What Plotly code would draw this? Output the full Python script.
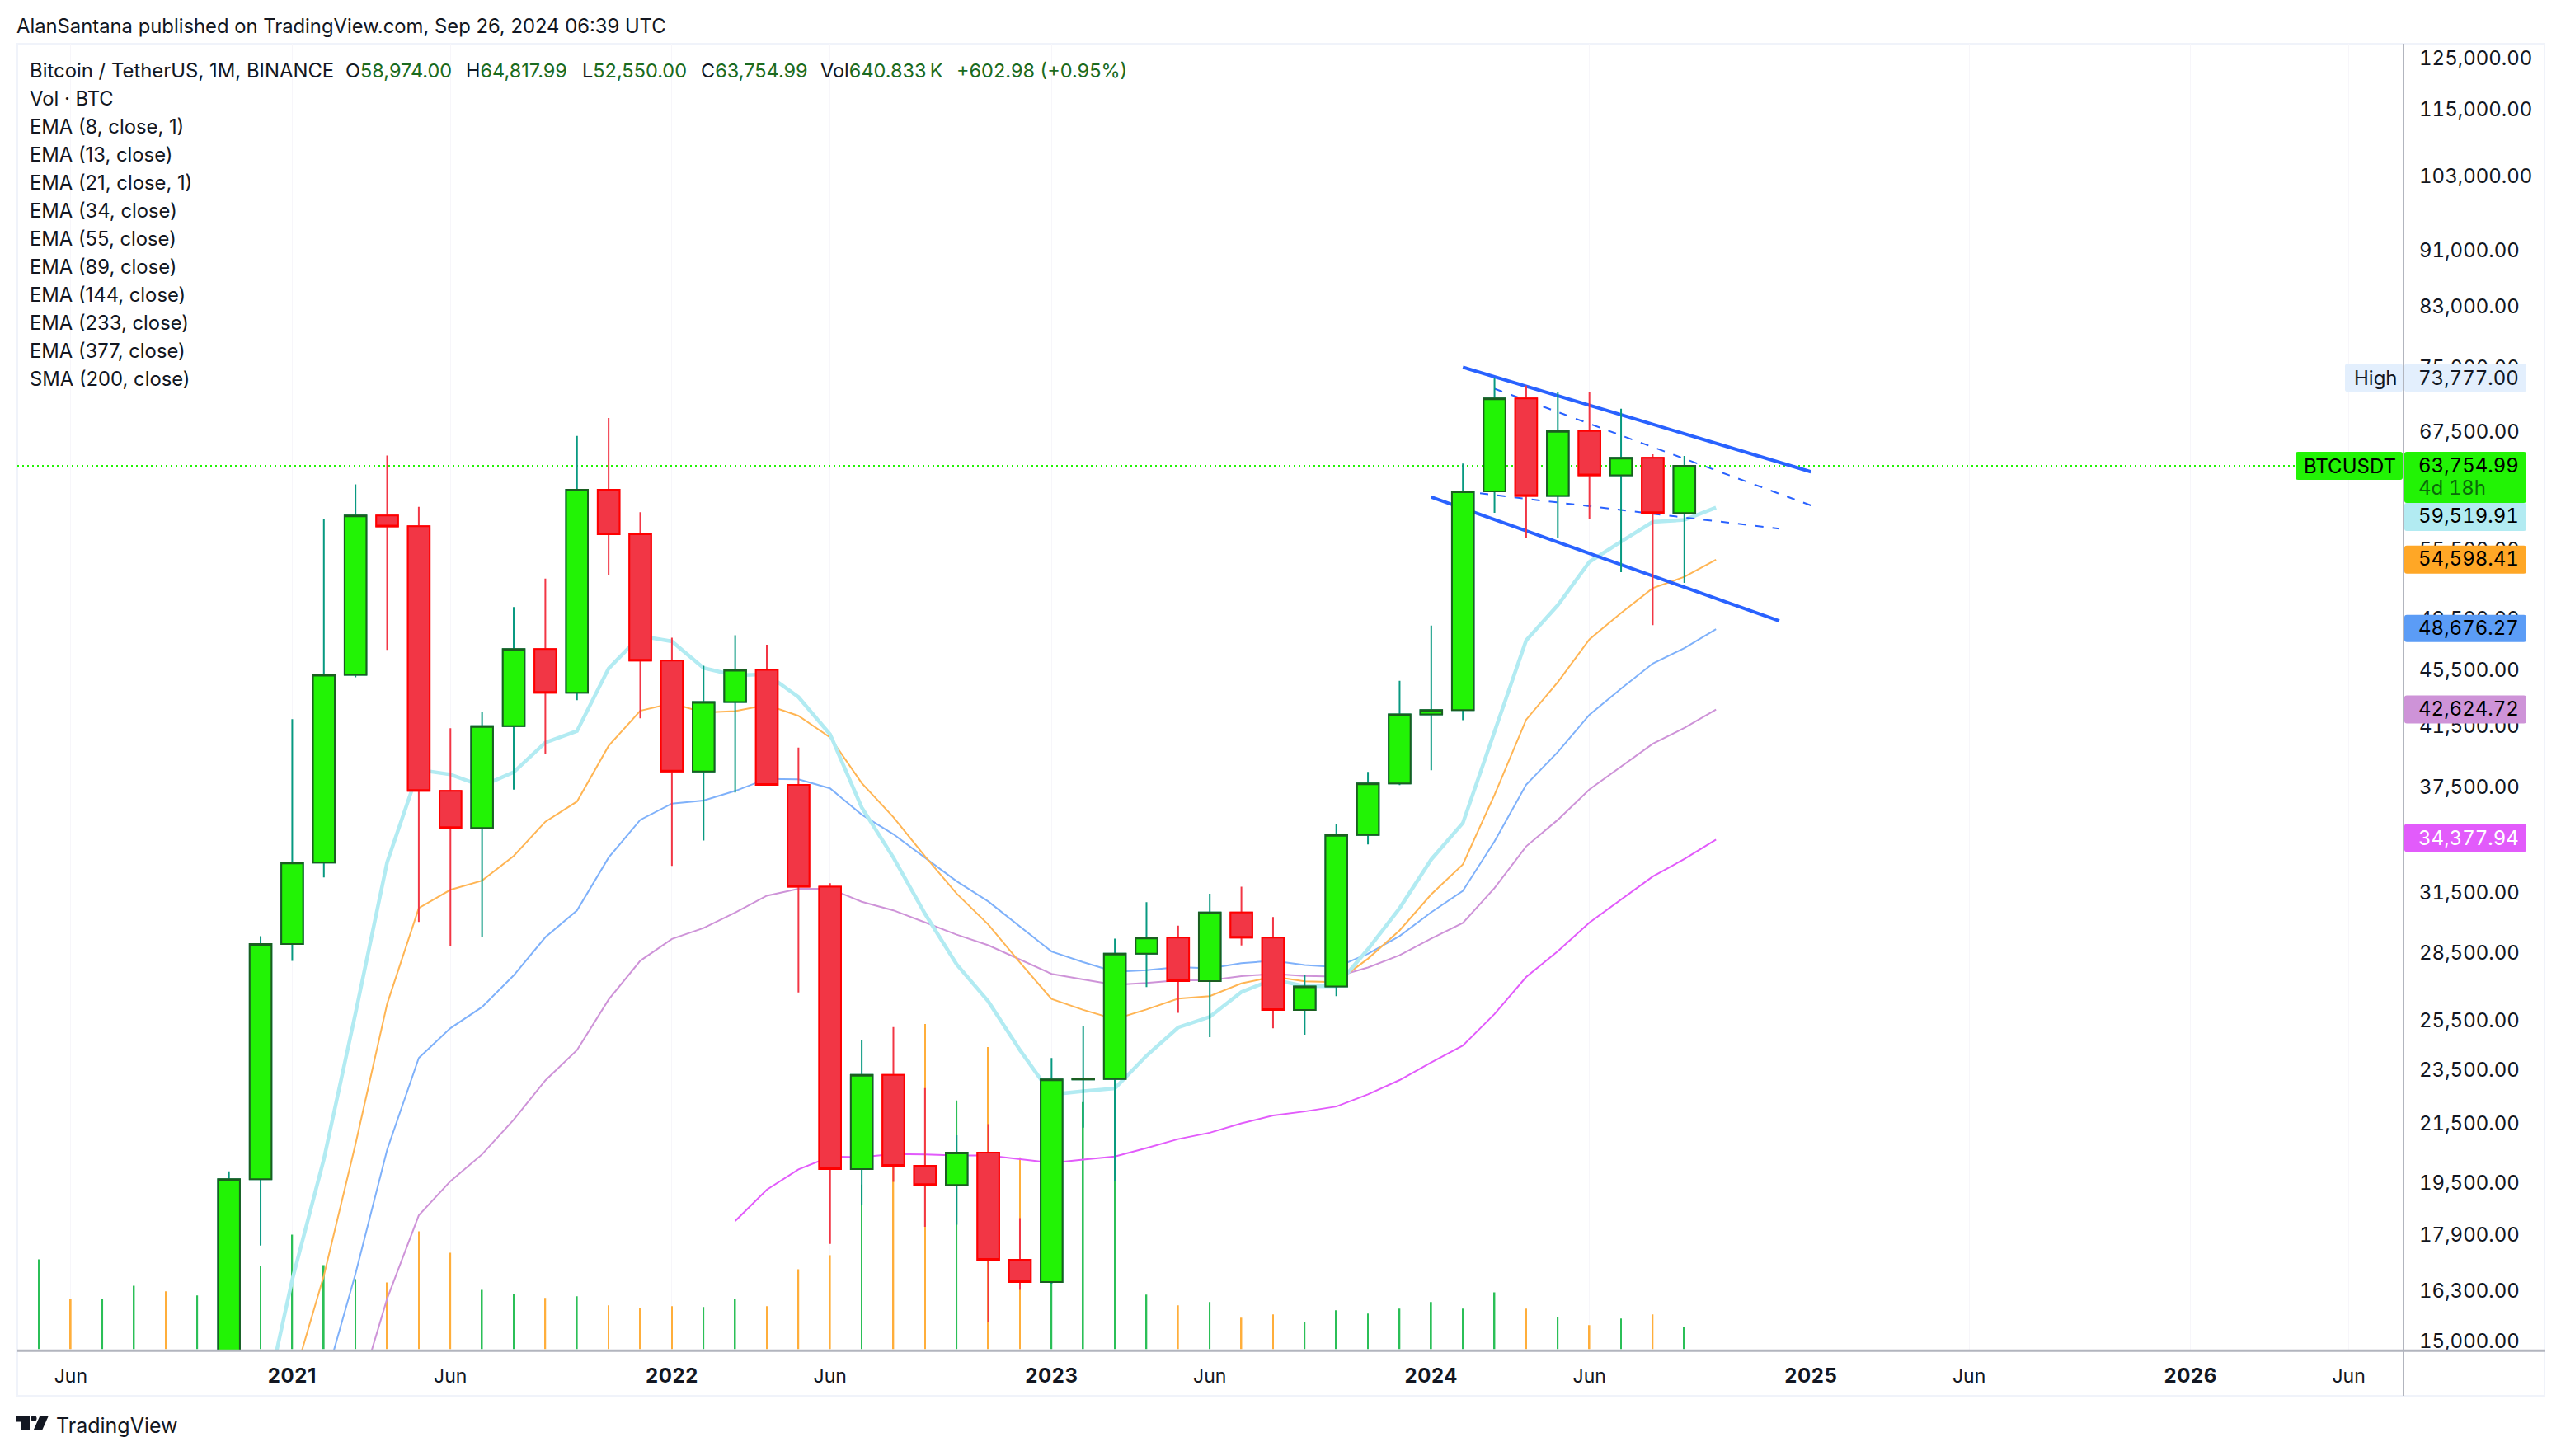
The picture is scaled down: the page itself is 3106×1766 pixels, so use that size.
import numpy as np
import plotly.graph_objects as go

W, H = 3106, 1766
LEFT, RIGHT, TOP, BOTTOM = 21, 2915, 53, 1641

# months are counted from Jan 2021 = 0
candle_x = list(range(-2, 45))
opens = [13791, 19608, 28923, 33092, 45134, 58739, 57697, 37253, 35045, 41461, 47100, 43820,
         61300, 56950, 46216, 38466, 43160, 45510, 37630, 31801, 19942, 23296, 20048, 19422,
         20490, 17165, 16542, 23125, 23142, 28465, 29233, 27210, 30472, 29232, 25941, 26962,
         34639, 37723, 42283, 42580, 61130, 71280, 60672, 67540, 62772, 64628, 58974]
highs = [19863, 29300, 41950, 58352, 61844, 64854, 59592, 41330, 42448, 50500, 52920, 67000,
         69000, 59053, 47990, 45821, 48189, 47444, 40023, 31982, 24668, 25214, 22799, 21085,
         21480, 18387, 23960, 25250, 29184, 31000, 29820, 31431, 31804, 30244, 27483, 35280,
         38450, 44700, 48969, 64000, 73777, 72797, 71979, 71998, 70079, 65000, 64817.99]
lows = [13195, 17572, 28130, 32296, 44950, 47044, 30000, 28805, 29278, 37332, 39600, 43283,
        53256, 42000, 32917, 34322, 37155, 37578, 26700, 17622, 18781, 19520, 18125, 18190,
        15476, 16333, 16499, 21351, 19549, 26942, 25811, 24800, 28861, 25166, 24900, 26538,
        34097, 37615, 38555, 41884, 59005, 56552, 56555, 58402, 53485, 49000, 52550]
closes = [19608, 28923, 33092, 45135, 58740, 57694, 37253, 35045, 41461, 47100, 43824, 61299,
          56950, 46216, 38466, 43160, 45510, 37630, 31801, 19942, 23296, 20050, 19422, 20490,
          17164, 16542, 23125, 23142, 28465, 29233, 27210, 30472, 29232, 25941, 26962, 34639,
          37723, 42283, 42580, 61130, 71280, 60672, 67540, 62772, 64628, 58974, 63754.99]

# volume in K BTC, some of them sit behind wicks and are guesses
vol_x = list(range(-8, 45))
volume = [2583, 1446, 1446, 1825, 1659, 1541, 2133, 2394, 3294, 2417, 2015, 1920, 3389, 2773,
          1706, 1588, 1469, 1517, 1256, 1185, 1232, 1209, 1446, 1232, 2299, 2702, 4740, 6162,
          9361, 7157, 8698, 5522, 6162, 7110, 9480, 1564, 1256, 1351, 901, 995, 782, 1114,
          1019, 1161, 1351, 1161, 1635, 1161, 924, 687, 877, 995, 641]
vol_up = [1, 0, 1, 1, 0, 1, 1, 1, 1, 1, 1, 0, 0, 0, 1, 1, 0, 1, 0, 0, 0, 1, 1, 0, 0, 0, 1, 0,
          0, 1, 0, 0, 1, 1, 1, 1, 0, 1, 0, 0, 1, 1, 1, 1, 1, 1, 1, 0, 1, 0, 1, 0, 1]

ema8_x = list(range(-1, 46))
ema8 = [13087, 16606, 20270, 25796, 33117, 38579, 38284, 37564, 38431, 40358, 41129, 45611,
        48131, 47705, 45652, 45098, 45189, 43509, 40907, 36248, 33370, 30411, 27969, 26307,
        24275, 22557, 22683, 22785, 24048, 25200, 25647, 26720, 27278, 26981, 26977, 28680,
        30690, 33266, 35335, 41067, 47781, 50646, 54400, 56260, 58120, 58309, 59519.91]
ema13_x = list(range(0, 46))
ema13 = [13989, 16718, 20778, 26201, 30700, 31636, 32123, 33457, 35406, 36609, 40136, 42538,
         43063, 42406, 42514, 42942, 42183, 40700, 37735, 35672, 33440, 31437, 29873, 28057,
         26412, 25942, 25542, 25960, 26428, 26540, 27102, 27406, 27197, 27163, 28231, 29587,
         31401, 32998, 37017, 41912, 44592, 47870, 49999, 52089, 53072, 54598.41]
ema21_x = list(range(1, 46))
ema21 = [13937, 16773, 20588, 23961, 25169, 26067, 27466, 29251, 30576, 33369, 35513, 36486,
         36666, 37256, 38006, 37972, 37411, 35823, 34684, 33354, 32087, 31033, 29772, 28569,
         28074, 27626, 27702, 27841, 27784, 28028, 28137, 27937, 27848, 28465, 29307, 30487,
         31586, 34272, 37636, 39730, 42258, 44123, 45987, 47168, 48676.27]
ema34_x = list(range(2, 46))
ema34 = [13510, 16095, 18472, 19545, 20431, 21633, 23088, 24273, 26389, 28135, 29168, 29699,
         30468, 31328, 31688, 31694, 31022, 30581, 29979, 29376, 28868, 28199, 27533, 27281,
         27044, 27125, 27245, 27243, 27428, 27531, 27440, 27413, 27826, 28392, 29186, 29951,
         31733, 33993, 35517, 37347, 38800, 40276, 41344, 42624.72]
ema55_x = list(range(14, 46))
ema55 = [18300, 19272, 19928, 20352, 20337, 20443, 20429, 20393, 20396, 20281, 20147, 20253,
         20356, 20646, 20953, 21176, 21508, 21784, 21932, 22112, 22559, 23101, 23786, 24457,
         25767, 27392, 28581, 29972, 31143, 32339, 33290, 34377.94]

# drawn channel, month and price at both ends
channel_x = [[37, 48], [36, 47]]
channel_y = [[75050, 63140], [60550, 49340]]
dashed_x = [[38, 48], [37, 47]]
dashed_y = [[72430, 59730], [61140, 57470]]

last_price = 63754.99
price_ticks = [125000, 115000, 103000, 91000, 83000, 75000, 67500, 55500, 49500, 45500,
               41500, 37500, 31500, 28500, 25500, 23500, 21500, 19500, 17900, 16300, 15000]
time_ticks = [-7, 0, 5, 12, 17, 24, 29, 36, 41, 48, 53, 60, 65]
time_labels = ['Jun', '2021', 'Jun', '2022', 'Jun', '2023', 'Jun', '2024', 'Jun', '2025', 'Jun', '2026', 'Jun']
legend_rows = ['Vol · BTC', 'EMA (8, close, 1)', 'EMA (13, close)', 'EMA (21, close, 1)', 'EMA (34, close)',
               'EMA (55, close)', 'EMA (89, close)', 'EMA (144, close)', 'EMA (233, close)',
               'EMA (377, close)', 'SMA (200, close)']

INK = '#131722'
GREEN = '#22F305'
DARK_GREEN = '#1B5E20'
TEAL = '#089981'
RED = '#F23645'
BLUE = '#2962FF'
GRID = '#F7F6FA'
FRAME = '#F0F3FA'
AXIS = '#B2B5BE'
FONT = 'Inter'

price_range = [np.log10(14770), np.log10(128134)]
vol_range = [-47, 37600]
x_range = [-8.689, 66.73]


def px(x):
    return x / W


def py(y):
    return 1 - y / H


def tabular(text):
    # tradingview's axis digits all have the same width
    return '<span style="font-variant-numeric:tabular-nums">%s</span>' % text


fig = go.Figure()

fig.add_trace(go.Bar(x=vol_x, y=volume, width=0.045, yaxis='y',
                     marker=dict(color=['#2BBF57' if u else '#FFAE3B' for u in vol_up], line_width=0)))

# lines go on their own axis so the candles can stay above them
fig.add_trace(go.Scatter(x=[x_range[0], 66], y=[last_price, last_price], yaxis='y2', mode='lines',
                         line=dict(color=GREEN, width=2, dash='2px,4px')))
for xs, ys, col, lw in [(ema55_x, ema55, '#E25BFB', 2), (ema34_x, ema34, '#CE93D8', 2), (ema21_x, ema21, '#7FB1FA', 2),
                        (ema13_x, ema13, '#FFB554', 2), (ema8_x, ema8, '#B2EBF2', 4.5)]:
    fig.add_trace(go.Scatter(x=xs, y=ys, yaxis='y2', mode='lines', line=dict(color=col, width=lw)))
for xs, ys in zip(dashed_x, dashed_y):
    fig.add_trace(go.Scatter(x=xs, y=ys, yaxis='y2', mode='lines', line=dict(color=BLUE, width=2, dash='10px,11px')))
for xs, ys in zip(channel_x, channel_y):
    fig.add_trace(go.Scatter(x=xs, y=ys, yaxis='y2', mode='lines', line=dict(color=BLUE, width=4)))

# wicks first, then the bodies with no wick so the border can have another colour
fig.add_trace(go.Candlestick(x=candle_x, open=opens, high=highs, low=lows, close=closes, yaxis='y3',
                             increasing=dict(line=dict(color=TEAL, width=2), fillcolor=GREEN),
                             decreasing=dict(line=dict(color=RED, width=2), fillcolor=RED)))
body_hi = [max(o, c) for o, c in zip(opens, closes)]
body_lo = [min(o, c) for o, c in zip(opens, closes)]
fig.add_trace(go.Candlestick(x=candle_x, open=opens, high=body_hi, low=body_lo, close=closes, yaxis='y3',
                             increasing=dict(line=dict(color=DARK_GREEN, width=2), fillcolor=GREEN),
                             decreasing=dict(line=dict(color='#FF0000', width=2), fillcolor=RED)))

annotations = []


def note(text, x, y, size=23.8, color=INK):
    # annotations carry about 2px of padding
    annotations.append(dict(text=text, x=px(x - 2), y=py(y), xref='paper', yref='paper', xanchor='left', yanchor='middle',
                            showarrow=False, align='left', font=dict(family=FONT, size=size, color=color)))


note('AlanSantana published on TradingView.com, Sep 26, 2024 06:39 UTC', 20, 32)
note('Bitcoin / TetherUS, 1M, BINANCE', 36, 86, size=23.9)
VALUE = '#1B6B20'
for x, head, val in [(419, 'O', '58,974.00'), (565, 'H', '64,817.99'), (706, 'L', '52,550.00'), (850, 'C', '63,754.99'),
                     (995, 'Vol', '640.833'), (1160, '', '+602.98 (+0.95%)')]:
    note('%s<span style="color:%s">%s</span>' % (head, VALUE, val + ('\u2009K' if head == 'Vol' else '')), x, 86, size=23.5)
for k, row in enumerate(legend_rows):
    note(row, 36, 120 + k * 34)
note('TradingView', 68, 1732, size=25)

shapes = []


def chip(x0, x1, y0, y1, color, r=3):
    a, b, c, d = px(x0), px(x1), py(y0), py(y1)
    rx, ry = px(r), r / H
    path = 'M%f,%f L%f,%f Q%f,%f %f,%f L%f,%f Q%f,%f %f,%f L%f,%f Q%f,%f %f,%f L%f,%f Q%f,%f %f,%f Z' % (
        a + rx, c, b - rx, c, b, c, b, c - ry, b, d + ry, b, d, b - rx, d, a + rx, d, a, d, a, d + ry, a, c - ry, a, c, a + rx, c)
    shapes.append(dict(type='path', path=path, xref='paper', yref='paper', fillcolor=color, line_width=0, layer='above'))


for x0, x1, y0, y1, col in [(2844, 2914, 442, 476, '#E3EFFD'), (2916, 3064, 442, 476, '#E3EFFD'),
                            (2784, 2914, 549, 583, GREEN), (2916, 3064, 549, 611, GREEN),
                            (2916, 3064, 611, 645, '#B2EBF2'), (2916, 3064, 663, 697, '#FFA726'),
                            (2916, 3064, 747, 780, '#5B9CF6'), (2916, 3064, 845, 879, '#CE93D8'),
                            (2916, 3064, 1001, 1035, '#E25BFB')]:
    chip(x0, x1, y0, y1, col)

for txt, x, y, col in [('High', 2855, 459, INK), ('73,777.00', 2933, 459, INK), ('BTCUSDT', 2794, 566, '#000000'),
                       ('63,754.99', 2933, 565, '#000000'), ('4d 18h', 2933, 593, '#0B6A0B'), ('59,519.91', 2933, 627, '#000000'),
                       ('54,598.41', 2933, 679, '#000000'), ('48,676.27', 2933, 763, '#000000'), ('42,624.72', 2933, 861, '#000000'),
                       ('34,377.94', 2933, 1018, '#FFFFFF')]:
    note(tabular(txt), x, y, size=24, color=col)

# outer frame and the axis lines
shapes.append(dict(type='rect', xref='paper', yref='paper', x0=px(21), x1=px(3086), y0=py(1696), y1=py(53),
                   line=dict(color=FRAME, width=2), layer='below'))
shapes.append(dict(type='line', xref='paper', yref='paper', x0=px(2915), x1=px(2915), y0=py(1696), y1=py(53),
                   line=dict(color=AXIS, width=2), layer='above'))
shapes.append(dict(type='line', xref='paper', yref='paper', x0=px(21), x1=px(3086), y0=py(1641), y1=py(1641),
                   line=dict(color=AXIS, width=3), layer='above'))

# TradingView mark
logo = [[(20, 1720), (36, 1720), (36, 1738), (26, 1738), (26, 1727.5), (20, 1727.5)],
        [(48.5, 1720), (59, 1720), (51, 1738), (40.5, 1738)]]
for poly in logo:
    path = 'M' + ' L'.join('%f,%f' % (px(a), py(b)) for a, b in poly) + ' Z'
    shapes.append(dict(type='path', path=path, xref='paper', yref='paper', fillcolor=INK, line_width=0))
shapes.append(dict(type='circle', xref='paper', yref='paper', x0=px(37.5), x1=px(44.5), y0=py(1727), y1=py(1720),
                   fillcolor=INK, line_width=0))

domain_x = [px(LEFT), px(RIGHT)]
domain_y = [py(BOTTOM), py(TOP)]

fig.update_layout(
    width=W, height=H,
    margin=dict(l=0, r=0, t=0, b=0),
    autosize=False,
    paper_bgcolor='white', plot_bgcolor='white',
    showlegend=False,
    barmode='overlay',
    boxgap=0.31, boxgroupgap=0,
    annotations=annotations,
    shapes=shapes,
    xaxis=dict(domain=domain_x, range=x_range, rangeslider_visible=False, tickmode='array', tickvals=time_ticks,
               ticktext=['<span style="font-size:24px;letter-spacing:0.6px"><b>%s</b></span>' % t if t != 'Jun' else t
                         for t in time_labels],
               showgrid=True, gridcolor=GRID, gridwidth=1, zeroline=False, showline=False,
               ticks='', ticklabelstandoff=15, tickfont=dict(family=FONT, size=23, color=INK)),
    yaxis=dict(domain=domain_y, range=vol_range, visible=False, fixedrange=True),
    yaxis2=dict(domain=domain_y, overlaying='y', side='right', anchor='x', type='log', range=price_range, tickmode='array',
                tickvals=price_ticks, ticktext=[tabular('{:,.2f}'.format(v)) for v in price_ticks], showgrid=False,
                zeroline=False, showline=False, ticks='', ticklabelstandoff=18,
                tickfont=dict(family=FONT, size=24, color=INK)),
    yaxis3=dict(domain=domain_y, overlaying='y', side='right', anchor='x', type='log', range=price_range, visible=False),
)

fig.write_html("out.html", config=dict(displayModeBar=False), post_script="document.body.style.margin='0';")
